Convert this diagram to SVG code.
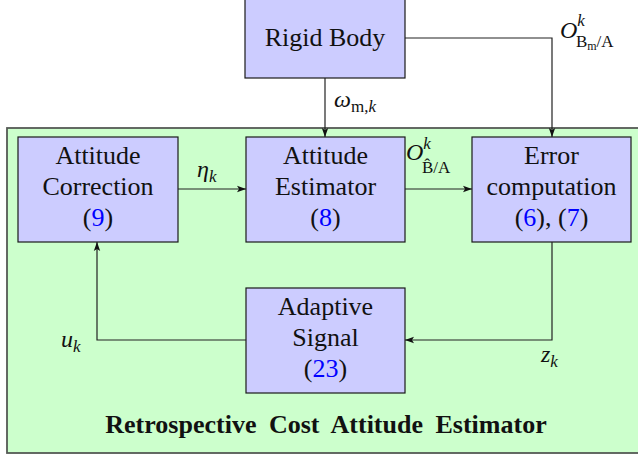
<svg xmlns="http://www.w3.org/2000/svg" width="638" height="456" viewBox="0 0 638 456">
  <style>
    .block { fill: #ccccff; stroke: #1a1a1a; stroke-width: 1.2; }
    .frame { fill: #ccffcc; stroke: #555a55; stroke-width: 1.8; }
    .wire { fill: none; stroke: #222; stroke-width: 1.2; }
    text { font-family: 'Liberation Serif', 'Tinos', 'Times New Roman', 'DejaVu Serif', serif; fill: #111; }
    .txt { font-size: 26px; text-anchor: middle; }
    .ref { fill: #0000ff; }
    .math { font-style: italic; font-size: 24px; }
    .rm { font-style: normal; }
    .title { font-weight: bold; font-size: 26px; text-anchor: middle; word-spacing: 6px; }
  </style>
  <defs>
    <marker id="head" markerWidth="10" markerHeight="8" refX="9" refY="4" orient="auto" markerUnits="userSpaceOnUse">
      <path d="M0,0.8 L9,4 L0,7.2 L2,4 Z" fill="#111"/>
    </marker>
  </defs>

  <!-- estimator frame -->
  <g id="estimator-frame">
    <rect class="frame" x="7" y="128" width="640" height="325"/>
    <text class="title" x="326" y="433">Retrospective Cost Attitude Estimator</text>
  </g>

  <!-- blocks -->
  <g id="rigid-body">
    <rect class="block" x="245" y="-2" width="160" height="80"/>
    <text class="txt" x="325" y="46">Rigid Body</text>
  </g>
  <g id="attitude-correction">
    <rect class="block" x="18" y="137" width="160" height="105"/>
    <text class="txt" x="98" y="164">Attitude</text>
    <text class="txt" x="98" y="195">Correction</text>
    <text class="txt" x="98" y="226">(<tspan class="ref">9</tspan>)</text>
  </g>
  <g id="attitude-estimator">
    <rect class="block" x="246" y="137" width="159" height="105"/>
    <text class="txt" x="325.5" y="164">Attitude</text>
    <text class="txt" x="325.5" y="195">Estimator</text>
    <text class="txt" x="325.5" y="226">(<tspan class="ref">8</tspan>)</text>
  </g>
  <g id="error-computation">
    <rect class="block" x="472" y="137" width="159" height="105"/>
    <text class="txt" x="551.5" y="164">Error</text>
    <text class="txt" x="551.5" y="195">computation</text>
    <text class="txt" x="551.5" y="226">(<tspan class="ref">6</tspan>), (<tspan class="ref">7</tspan>)</text>
  </g>
  <g id="adaptive-signal">
    <rect class="block" x="246" y="288" width="159" height="105"/>
    <text class="txt" x="325.5" y="315">Adaptive</text>
    <text class="txt" x="325.5" y="346">Signal</text>
    <text class="txt" x="325.5" y="377">(<tspan class="ref">23</tspan>)</text>
  </g>

  <!-- connectors -->
  <g id="connectors">
    <path class="wire" d="M325,78 V137" marker-end="url(#head)"/>
    <path class="wire" d="M405,38 H552 V137" marker-end="url(#head)"/>
    <path class="wire" d="M178,189 H246" marker-end="url(#head)"/>
    <path class="wire" d="M405,189 H472" marker-end="url(#head)"/>
    <path class="wire" d="M552,242 V340 H405" marker-end="url(#head)"/>
    <path class="wire" d="M246,340 H97 V242" marker-end="url(#head)"/>
  </g>

  <!-- signal labels -->
  <g id="labels">
    <text class="math" x="334" y="107">ω<tspan class="rm" font-size="17" dy="5">m,</tspan><tspan font-size="17">k</tspan></text>
    <text class="math" x="560" y="38">O<tspan font-size="17" dy="-12">k</tspan><tspan class="rm" font-size="17" dx="-9" dy="21">B</tspan><tspan class="rm" font-size="12" dy="3">m</tspan><tspan class="rm" font-size="17" dy="-3">/A</tspan></text>
    <text class="math" x="406" y="160">O<tspan font-size="17" dy="-11">k</tspan><tspan class="rm" font-size="17" dx="-9" dy="24">B̂/A</tspan></text>
    <text class="math" x="197" y="177">η<tspan font-size="17" dy="5">k</tspan></text>
    <text class="math" x="61" y="347">u<tspan font-size="17" dy="5">k</tspan></text>
    <text class="math" x="541" y="362">z<tspan font-size="17" dy="5">k</tspan></text>
  </g>
</svg>
